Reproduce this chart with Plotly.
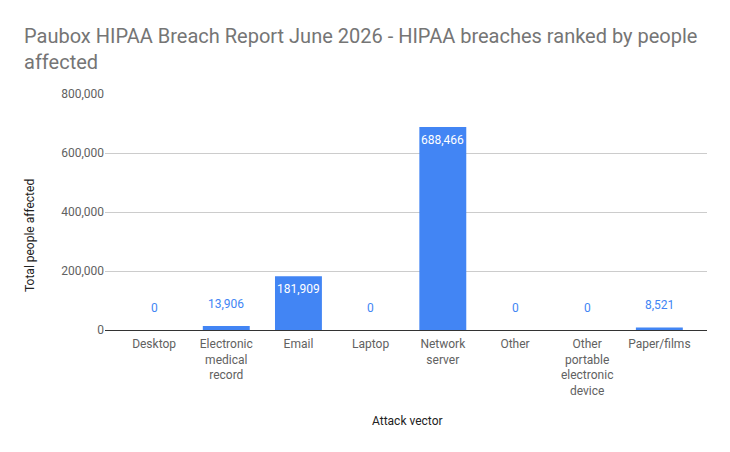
import plotly.graph_objects as go

categories = ["Desktop", "Electronic<br>medical<br>record", "Email", "Laptop",
              "Network<br>server", "Other", "Other<br>portable<br>electronic<br>device", "Paper/films"]
values = [0, 13906, 181909, 0, 688466, 0, 0, 8521]
labels = [f"{v:,}" for v in values]
tick_vals = [0, 200000, 400000, 600000, 800000]
tick_text = ["0", "200,000", "400,000", "600,000", "800,000"]

blue = "#4285F4"
W, H = 730, 452
L, R, T, B = 105, 23, 94, 122
pw, ph = W - L - R, H - T - B

fig = go.Figure(go.Bar(
    x=list(range(len(categories))), y=values,
    marker=dict(color=blue, line=dict(width=0)),
    hoverinfo="x+y",
))

annotations = []
for i, (v, lab) in enumerate(zip(values, labels)):
    inside = v > 100000
    annotations.append(dict(
        x=i, y=v, xref="x", yref="y", text=lab, showarrow=False,
        yanchor="top" if inside else "bottom",
        yshift=-4 if inside else 13,
        font=dict(size=12, family="Roboto", color="white" if inside else blue),
    ))
# axis titles
annotations.append(dict(text="Total people affected", xref="paper", yref="paper",
                        x=(30 - L) / pw, y=(T + ph - 236) / ph, textangle=-90, showarrow=False,
                        xanchor="center", yanchor="middle",
                        font=dict(size=12, family="Roboto", color="#222222")))
annotations.append(dict(text="Attack vector", xref="paper", yref="paper",
                        x=(407 - L) / pw, y=(T + ph - 421) / ph, showarrow=False,
                        xanchor="center", yanchor="middle",
                        font=dict(size=12, family="Roboto", color="#222222")))

fig.update_layout(
    width=W, height=H,
    margin=dict(l=L, r=R, t=T, b=B),
    paper_bgcolor="white", plot_bgcolor="white",
    font=dict(family="Roboto", size=12, color="#616161"),
    title=dict(text="Paubox HIPAA Breach Report June 2026 - HIPAA breaches ranked by people<br>affected",
               x=24 / W, xanchor="left", y=1 - 43 / H, yanchor="top",
               font=dict(size=20, color="#757575", family="Roboto")),
    bargap=0.35,
    showlegend=False,
    annotations=annotations,
)
fig.update_xaxes(range=[-0.68, 7.66], tickvals=list(range(len(categories))), ticktext=categories,
                 showgrid=False, showline=False, ticks="", ticklabelstandoff=5,
                 tickfont=dict(size=12, color="#616161"))
fig.update_yaxes(range=[0, 800000], tickvals=tick_vals, ticktext=tick_text, showgrid=True,
                 gridcolor="#cccccc", zeroline=True, zerolinecolor="#333333", zerolinewidth=1,
                 ticks="", tickfont=dict(size=12, color="#616161"))
fig.write_html("out.html")
